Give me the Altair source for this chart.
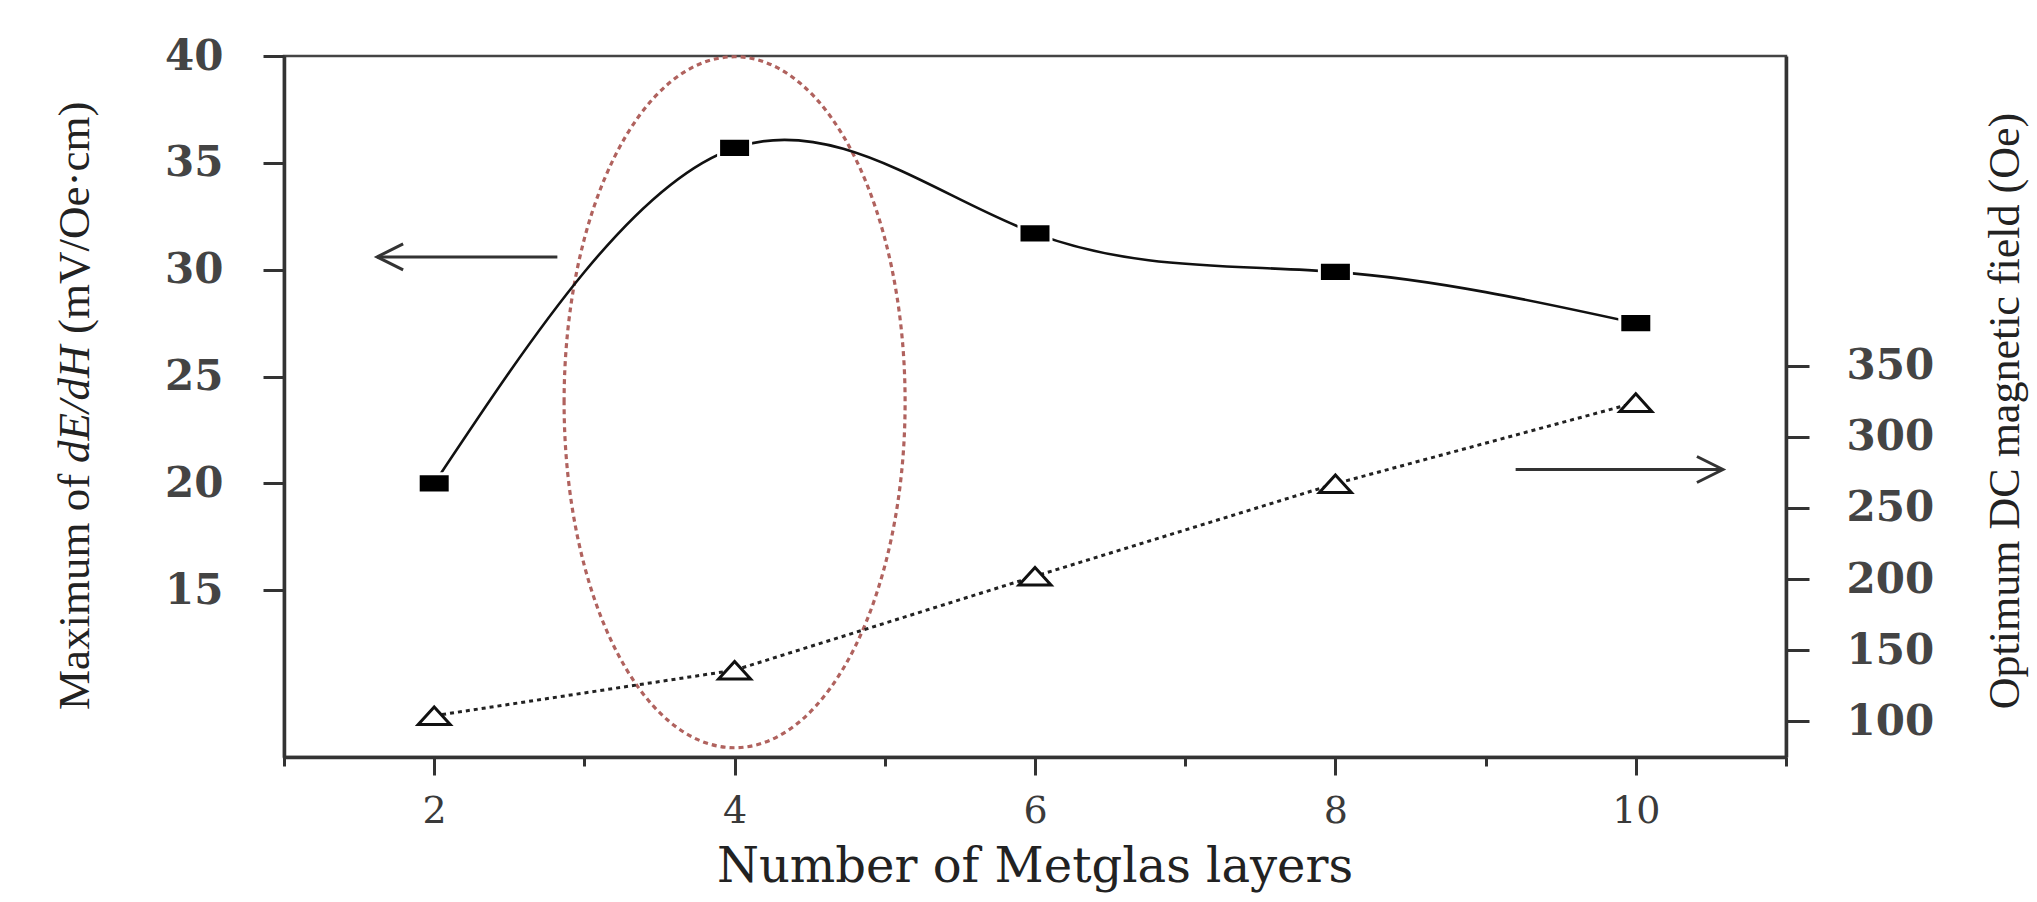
import altair as alt
import pandas as pd

# ---------------- data ----------------
layers = [2, 4, 6, 8, 10]
dedh_max = [20.0, 35.7, 31.7, 29.9, 27.5]          # mV/(Oe·cm), left axis
opt_field = [104, 136, 202, 267, 324]               # Oe, right axis

x_ticks = [1, 2, 3, 4, 5, 6, 7, 8, 9, 10, 11]
left_ticks = [15, 20, 25, 30, 35, 40]
right_ticks = [100, 150, 200, 250, 300, 350]

x_title = ["Number of Metglas layers"]
left_title_parts = ["Maximum of", "dE/dH", "(mV/Oe·cm)"]
right_title = ["Optimum DC magnetic field (Oe)"]

# annotation anchors (data units)
ellipse_pos = {"x": [4], "y": [23.8]}
left_arrow = {"x_tip": [1.62], "x_tail": [2.82], "y": [30.6]}
right_arrow = {"x_tail": [9.2], "x_tip": [10.58], "y": [277]}

# ---------------- chart ----------------
df = pd.DataFrame({"layers": layers, "dedh": dedh_max, "field": opt_field})

AX = "#333333"
LBL = "#444444"
x_scale = alt.Scale(domain=[1, 11], nice=False, zero=False)
yl_scale = alt.Scale(domain=[7.2, 40], nice=False, zero=False)
yr_scale = alt.Scale(domain=[75, 567.5], nice=False, zero=False)

x_axis = alt.Axis(
    values=x_ticks, labelExpr="datum.value % 2 == 0 ? datum.label : ''",
    tickSize={"condition": {"test": "datum.value % 2 == 0", "value": 18}, "value": 9},
    tickWidth=3, tickColor=AX, domainColor=AX, domainWidth=3.5, grid=False,
    labelFont="DejaVu Serif", labelFontSize=38, labelColor="#3a3a3a", labelPadding=17,
)
left_axis = alt.Axis(
    values=left_ticks, orient="left", tickSize=21, tickWidth=3, tickColor=AX,
    domainColor=AX, domainWidth=3.5, grid=False, labelFont="DejaVu Serif",
    labelFontSize=42, labelFontWeight="bold", labelColor=LBL, labelPadding=40,
)
right_axis = alt.Axis(
    values=right_ticks, orient="right", tickSize=23, tickWidth=3, tickColor=AX,
    domainColor=AX, domainWidth=3.5, grid=False, labelFont="DejaVu Serif",
    labelFontSize=42, labelFontWeight="bold", labelColor=LBL, labelPadding=37,
)

def X(field):
    return alt.X(field, scale=x_scale, axis=x_axis, title=None)

def YL(field):
    return alt.Y(field, scale=yl_scale, axis=left_axis, title=None)

def YR(field):
    return alt.Y(field, scale=yr_scale, axis=right_axis, title=None)

SQUARE = "M -1 -0.6 L 1 -0.6 L 1 0.6 L -1 0.6 Z"
TRI = "M -1 0.55 L 0 -0.55 L 1 0.55 Z"
ELL = "M -0.4935 0 A 0.4935 1 0 1 1 0.4935 0 A 0.4935 1 0 1 1 -0.4935 0 Z"
HEAD_L = "M 1 -0.5 L 0 0 L 1 0.5"
HEAD_R = "M -1 -0.5 L 0 0 L -1 0.5"

ell = alt.Chart(pd.DataFrame(ellipse_pos)).mark_point(
    shape=ELL, size=477481, filled=False, stroke="#b0625e", strokeWidth=3.2,
    strokeDash=[5, 4], opacity=1,
).encode(x=X("x:Q"), y=YL("y:Q"))

curve = alt.Chart(df).mark_line(interpolate="natural", color="#111111", strokeWidth=2.6).encode(
    x=X("layers:Q"), y=YL("dedh:Q"))
squares = alt.Chart(df).mark_point(
    shape=SQUARE, size=1024, filled=True, fill="#000000", stroke="white",
    strokeWidth=3, opacity=1,
).encode(x=X("layers:Q"), y=YL("dedh:Q"))

la = pd.DataFrame(left_arrow)
la_shaft = alt.Chart(la).mark_rule(color=AX, strokeWidth=3).encode(
    x=X("x_tip:Q"), x2="x_tail:Q", y=YL("y:Q"))
la_head = alt.Chart(la).mark_point(
    shape=HEAD_L, size=2704, filled=False, stroke=AX, strokeWidth=3, opacity=1,
).encode(x=X("x_tip:Q"), y=YL("y:Q"))

left_group = alt.layer(ell, curve, squares, la_shaft, la_head)

dots = alt.Chart(df).mark_line(color="#222222", strokeWidth=3, strokeDash=[4, 4]).encode(
    x=X("layers:Q"), y=YR("field:Q"))
tris = alt.Chart(df).mark_point(
    shape=TRI, size=1024, filled=False, fill="white", stroke="#111111",
    strokeWidth=3, opacity=1,
).encode(x=X("layers:Q"), y=YR("field:Q"))

ra = pd.DataFrame(right_arrow)
ra_shaft = alt.Chart(ra).mark_rule(color=AX, strokeWidth=3).encode(
    x=X("x_tail:Q"), x2="x_tip:Q", y=YR("y:Q"))
ra_head = alt.Chart(ra).mark_point(
    shape=HEAD_R, size=2704, filled=False, stroke=AX, strokeWidth=3, opacity=1,
).encode(x=X("x_tip:Q"), y=YR("y:Q"))

right_group = alt.layer(dots, tris, ra_shaft, ra_head)

# titles (pixel positions relative to the plot area)
xt = alt.Chart(pd.DataFrame({"t": x_title})).mark_text(
    font="DejaVu Serif", fontSize=48, color="#222222", align="center",
    baseline="alphabetic",
).encode(text="t:N", x=alt.value(751), y=alt.value(826))

lt1 = alt.Chart(pd.DataFrame({"t": [left_title_parts[0]]})).mark_text(
    font="Liberation Serif", fontSize=45, color="#222222", align="left",
    baseline="middle", angle=270,
).encode(text="t:N", x=alt.value(-209), y=alt.value(654))
lt2 = alt.Chart(pd.DataFrame({"t": [left_title_parts[1]]})).mark_text(
    font="Liberation Serif", fontSize=45, fontStyle="italic", color="#222222",
    align="left", baseline="middle", angle=270,
).encode(text="t:N", x=alt.value(-209), y=alt.value(407))
lt3 = alt.Chart(pd.DataFrame({"t": [left_title_parts[2]]})).mark_text(
    font="Liberation Serif", fontSize=45, color="#222222", align="left",
    baseline="middle", angle=270,
).encode(text="t:N", x=alt.value(-209), y=alt.value(278))

rt = alt.Chart(pd.DataFrame({"t": right_title})).mark_text(
    font="Liberation Serif", fontSize=44, color="#222222", align="center",
    baseline="top", angle=270,
).encode(text="t:N", x=alt.value(1700), y=alt.value(355))

chart = alt.layer(left_group, right_group, xt, lt1, lt2, lt3, rt).resolve_scale(
    y="independent"
).properties(
    width=1502, height=701,
    autosize=alt.AutoSizeParams(type="none"),
    padding={"left": 276, "top": 48, "right": 243, "bottom": 137},
    background="white",
).configure_view(stroke="#444444", strokeWidth=2.5)

chart.save("out.html", embed_options={"renderer": "svg", "actions": False})
